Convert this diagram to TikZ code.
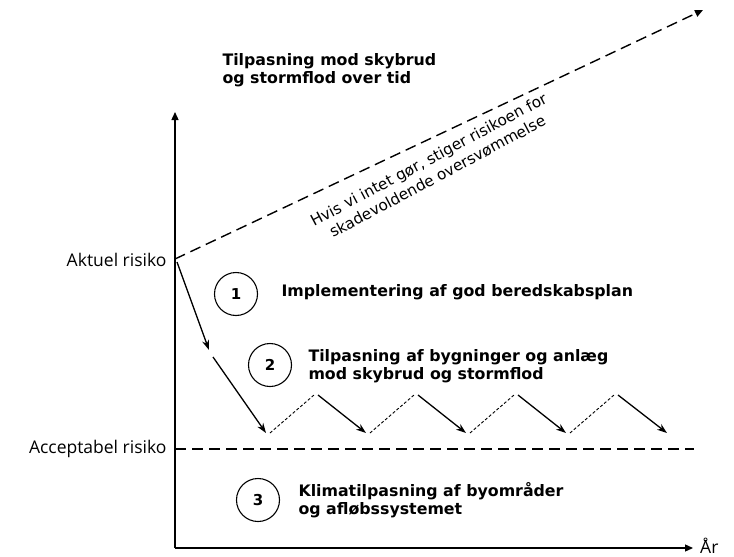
\documentclass[tikz,border=0pt]{standalone}
\usepackage{fontspec}
\setmainfont{DejaVu Sans}
\newfontfamily\lblfont{Open Sans}
\usetikzlibrary{arrows.meta,shapes.geometric}
\begin{document}
\begin{tikzpicture}[x=1pt,y=-1pt,
  axis/.style={line width=1.3pt,-{Triangle[length=8pt,width=7pt]}},
  down/.style={line width=1.3pt,-{Stealth[length=10pt,width=7pt]}},
  upd/.style={line width=0.9pt,dash pattern=on 3pt off 2pt},
  lvl/.style={line width=1.4pt,dash pattern=on 11pt off 6pt},
  num/.style={draw,line width=1.1pt,ellipse,minimum width=43pt,minimum height=43pt,inner sep=0pt,font=\fontsize{15}{17}\selectfont\bfseries},
  btxt/.style={anchor=west,align=left,font=\fontsize{15.8}{18.5}\selectfont\bfseries},
  lbl/.style={anchor=east,font=\lblfont\fontsize{17.5}{20}\selectfont}]
\useasboundingbox (0,0) rectangle (734,557);
\coordinate (O) at (175,548);
\coordinate (Ytop) at (175,112);
\coordinate (Xend) at (693,548);
\coordinate (A) at (175,259);
\coordinate (R) at (703,10);
\coordinate (L1) at (175,449);
\coordinate (L2) at (694,449);
% axes
\draw[axis] (O) -- (Ytop);
\draw[axis] (O) -- (Xend);
\node[anchor=west,inner sep=0pt,font=\lblfont\fontsize{17.5}{20}\selectfont] (ar) at (700,546) {År};
% labels
\node[lbl] (akt) at (170,260) {Aktuel risiko};
\node[lbl] (acc) at (170,449) {Acceptabel risiko};
% rising dashed
\draw[line width=1.4pt,dash pattern=on 11pt off 6pt,-{Triangle[length=8pt,width=7pt]}] (A) -- (R);
\node[rotate=28,align=center,font=\fontsize{15.3}{19}\selectfont] (rt) at (433,168) {Hvis vi intet gør, stiger risikoen for\\skadevoldende oversvømmelse};
% acceptable level
\draw[lvl] (L1) -- (L2);
% title
\node[btxt] (title) at (219,70) {Tilpasning mod skybrud\\og stormflod over tid};
% zigzag
\coordinate (z0) at (177,262);
\coordinate (z1) at (209,350);
\coordinate (z2) at (213,357);
\coordinate (v1) at (266,433);
\coordinate (p1) at (316,395);
\coordinate (v2) at (366,433);
\coordinate (p2) at (416,395);
\coordinate (v3) at (466,433);
\coordinate (p3) at (516,395);
\coordinate (v4) at (566,433);
\coordinate (p4) at (616,395);
\coordinate (v5) at (667,433);
\draw[down] (z0) -- (z1);
\draw[down] (z2) -- (v1);
\draw[upd] ([xshift=4pt]v1) -- ([xshift=-2pt]p1);
\draw[down] ([xshift=2pt]p1) -- (v2);
\draw[upd] ([xshift=4pt]v2) -- ([xshift=-2pt]p2);
\draw[down] ([xshift=2pt]p2) -- (v3);
\draw[upd] ([xshift=4pt]v3) -- ([xshift=-2pt]p3);
\draw[down] ([xshift=2pt]p3) -- (v4);
\draw[upd] ([xshift=4pt]v4) -- ([xshift=-2pt]p4);
\draw[down] ([xshift=2pt]p4) -- (v5);
% numbered
\node[num] (n1) at (236,294) {1};
\node[num] (n2) at (270,365) {2};
\node[num] (n3) at (258,500) {3};
\node[btxt] (t1) at (278,292) {Implementering af god beredskabsplan};
\node[btxt] (t2) at (305,366) {Tilpasning af bygninger og anlæg\\mod skybrud og stormflod};
\node[btxt] (t3) at (295,500) {Klimatilpasning af byområder\\og afløbssystemet};
\end{tikzpicture}
\end{document}
